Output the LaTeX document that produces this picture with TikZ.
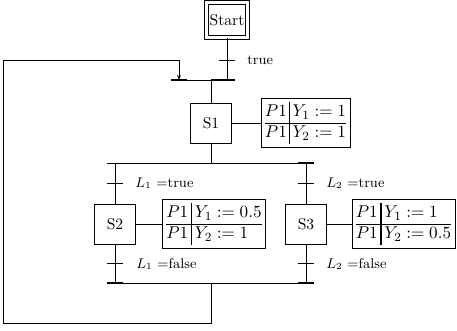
\documentclass[tikz,border=0pt]{standalone}
\usepackage{array}
\usetikzlibrary{arrows.meta}
\tikzset{
  wire/.style={line width=0.4pt},
  barthick/.style={line width=1.3pt},
  stepbox/.style={draw, line width=0.5pt, minimum width=26pt, minimum height=25.6pt, inner sep=0pt},
  initstep/.style={draw, line width=0.6pt, double, double distance=1.9pt,
                   minimum width=26.3pt, minimum height=21.9pt, inner sep=0pt},
  actbox/.style={draw, line width=0.5pt, inner sep=2.5pt, font=\fontsize{11pt}{13pt}\selectfont},
  cond/.style={anchor=west, inner sep=0pt, font=\small},
}
\setlength\tabcolsep{1.6pt}
\renewcommand\arraystretch{1.0}
\begin{document}
\begin{tikzpicture}[x=0.64pt,y=-0.64pt]
\useasboundingbox (0,0) rectangle (457,331);

% steps
\node[initstep] (start) at (227,20) {Start};
\node[stepbox] (s1) at (211,123) {S1};
\node[stepbox] (s2) at (115,224) {S2};
\node[stepbox] (s3) at (306,224) {S3};

% actions
\node[actbox] (a1) at (305.5,123) {\begin{tabular}{@{}c|l@{}}$P1$ & $Y_1:=1$\\\hline $P1$ & $Y_2:=1$\end{tabular}};
\node[actbox] (a2) at (214,224) {\begin{tabular}{@{}c!{\vrule width 1pt}l@{}}$P1$ & $Y_1:=0.5$\\\hline $P1$ & $Y_2:=1$\end{tabular}};
\node[actbox] (a3) at (403.5,224) {\begin{tabular}{@{}c!{\vrule width 1pt}l@{}}$P1$ & $Y_1:=1$\\\hline $P1$ & $Y_2:=0.5$\end{tabular}};
\draw[wire] (s1) -- (a1);
\draw[wire] (s2) -- (a2);
\draw[wire] (s3) -- (a3);

% junction points
\coordinate (j0) at (227,80);
\coordinate (jin) at (179,80);
\coordinate (j1) at (211,80);
\coordinate (d1) at (211,163);
\coordinate (d2) at (115,163);
\coordinate (d3) at (306,163);
\coordinate (m2) at (115,283);
\coordinate (m3) at (306,283);
\coordinate (m0) at (211,283);
\coordinate (r1) at (211,323);
\coordinate (r2) at (3,323);
\coordinate (r3) at (3,60);
\coordinate (r4) at (179,60);

% transitions (ticks)
\coordinate (t0) at (227,60);
\coordinate (t1) at (115,183);
\coordinate (t2) at (115,263);
\coordinate (t3) at (306,183);
\coordinate (t4) at (306,263);
\foreach \t in {t0,t1,t2,t3,t4}
  \draw[wire] ([xshift=-5.3pt]\t) -- ([xshift=5.3pt]\t);

% conditions
\node[cond] (c0) at (247,60) {true};
\node[cond] (c1) at (135,183) {$L_1$ =true};
\node[cond] (c2) at (136,264) {$L_1$ =false};
\node[cond] (c3) at (326,183) {$L_2$ =true};
\node[cond] (c4) at (326,264) {$L_2$ =false};

% convergence bar above S1
\draw[wire] (171,80) -- (235,80);
\draw[barthick] (171,80) -- (187,80);
\draw[barthick] (211,80) -- (235,80);
\draw[wire] (start) -- (j0);
\draw[wire] (j1) -- (s1);

% divergence below S1
\draw[wire] (s1) -- (d1);
\draw[wire] (107,163) -- (314,163);
\draw[barthick] (298,163) -- (314,163);
\draw[wire] (d2) -- (s2);
\draw[wire] (d3) -- (s3);

% convergence below S2 / S3
\draw[wire] (s2) -- (m2);
\draw[wire] (s3) -- (m3);
\draw[wire] (107,283) -- (314,283);
\draw[barthick] (107,283) -- (123,283);
\draw[barthick] (298,283) -- (314,283);

% loop back to the top
\draw[wire, -{Stealth[length=3.2pt,width=2.6pt]}] (m0) -- (r1) -- (r2) -- (r3) -- (r4) -- (jin);
\end{tikzpicture}
\end{document}
